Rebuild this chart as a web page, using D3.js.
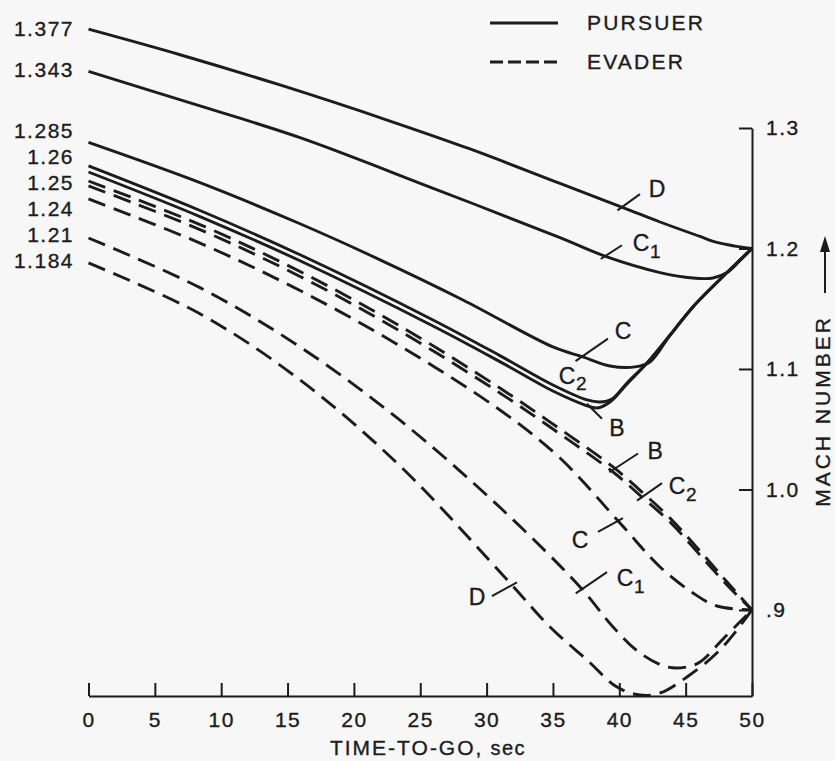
<!DOCTYPE html>
<html><head><meta charset="utf-8">
<script src="https://cdn.jsdelivr.net/npm/d3@7"></script>
<style>
html,body{margin:0;padding:0;background:#f7f7f7;}
svg{display:block;font-family:"Liberation Sans",Arial,sans-serif;}
svg text{stroke:#1c1c1c;stroke-width:0.35px;}
</style></head><body>
<svg id="chart" width="835" height="761"></svg>
<script>
// ---- data ----
const timeTicks = [0,5,10,15,20,25,30,35,40,45,50];
const machTicks = [0.9,1.0,1.1,1.2,1.3];
const machTickLabels = [".9","1.0","1.1","1.2","1.3"];
const startValues = [1.377,1.343,1.285,1.26,1.25,1.24,1.21,1.184];
const startValueLabels = ["1.377","1.343","1.285","1.26","1.25","1.24","1.21","1.184"];

// [time-to-go (s), Mach]
const pursuerD  = [[0,1.382],[6.9,1.3608],[14.43,1.3357],[22.72,1.3058],[28.75,1.2826],[35.53,1.254],[40.28,1.234],[43.07,1.222],[46.08,1.210],[47.36,1.205],[48.72,1.202],[50,1.2]];
const pursuerC1 = [[0,1.347],[8.4,1.3183],[15.94,1.292],[25.73,1.251],[35.53,1.209],[39.07,1.193],[43.07,1.180],[45.55,1.1755],[47.06,1.1755],[48.12,1.180],[49.1,1.190],[50,1.2]];
const pursuerC  = [[0,1.288],[8.4,1.2546],[15.94,1.2205],[21.97,1.1906],[28.22,1.1573],[35.0,1.1183],[37.26,1.110],[39.3,1.1025],[41.18,1.1017],[42.31,1.1058],[43.82,1.128],[45.55,1.1515],[48.12,1.180],[50,1.2]];
const pursuerC2 = [[0,1.2685],[8.4,1.2315],[15.94,1.1948],[25.96,1.1407],[31.0,1.1111],[35.0,1.0867],[37.57,1.0743],[38.55,1.0726],[39.45,1.0751],[40.58,1.0884],[42.09,1.105],[43.82,1.128],[45.55,1.1515],[48.12,1.180],[50,1.2]];
const pursuerB  = [[0,1.2635],[8.4,1.2265],[15.94,1.1898],[25.96,1.1357],[31.0,1.1061],[35.0,1.0817],[37.42,1.0701],[38.32,1.0676],[39.3,1.0726],[40.58,1.0876],[42.09,1.105],[43.82,1.128],[45.55,1.1515],[48.12,1.180],[50,1.2]];
const evaderB   = [[0,1.256],[8.4,1.2198],[15.94,1.1809],[23.47,1.1357],[31.0,1.0842],[35.53,1.0502],[39.53,1.0187],[41.79,0.9971],[43.82,0.9763],[46.08,0.9490],[48.12,0.9232],[50,0.9]];
const evaderC2  = [[0,1.2519],[8.4,1.2157],[15.94,1.1768],[23.47,1.1315],[31.0,1.0801],[35.53,1.0461],[39.53,1.0145],[41.79,0.9929],[43.82,0.9730],[46.08,0.9456],[48.12,0.9207],[50,0.9]];
const evaderC   = [[0,1.2411],[8.4,1.2045],[15.94,1.1651],[23.47,1.1191],[31.0,1.066],[35.53,1.0261],[40.05,0.9722],[43.07,0.9357],[45.55,0.9141],[47.36,0.9033],[50,0.9]];
const evaderC1  = [[0,1.2087],[8.4,1.1675],[15.94,1.1183],[23.47,1.0575],[31.0,0.9852],[37.04,0.9191],[39.53,0.8859],[41.56,0.8643],[43.6,0.8527],[45.1,0.8527],[46.08,0.8568],[47.96,0.8776],[50,0.9]];
const evaderD   = [[0,1.188],[8.4,1.1458],[15.94,1.0909],[23.47,1.0196],[31.76,0.9224],[34.78,0.8859],[37.57,0.8585],[39.83,0.836],[41.56,0.8294],[43.07,0.8311],[45.1,0.8444],[47.59,0.8668],[50,0.9]];

const series = [
  {id:"pD", role:"pursuer", data:pursuerD},
  {id:"pC1", role:"pursuer", data:pursuerC1},
  {id:"pC", role:"pursuer", data:pursuerC},
  {id:"pC2", role:"pursuer", data:pursuerC2},
  {id:"pB", role:"pursuer", data:pursuerB},
  {id:"eB", role:"evader", data:evaderB},
  {id:"eC2", role:"evader", data:evaderC2},
  {id:"eC", role:"evader", data:evaderC},
  {id:"eC1", role:"evader", data:evaderC1},
  {id:"eD", role:"evader", data:evaderD}
];
const curveNames = {pD:["D",""],pC1:["C","1"],pC:["C",""],pC2:["C","2"],pB:["B",""],
                    eB:["B",""],eC2:["C","2"],eC:["C",""],eC1:["C","1"],eD:["D",""]};
const legendItems = ["PURSUER","EVADER"];
const xTitle = "TIME-TO-GO,";
const xTitleUnit = "sec";
const yTitle = "MACH NUMBER";

// ---- layout (not data) ----
const annotations = [
  {id:"pD",  t:40.2,  tick:[18,-13], label:[35,-18]},
  {id:"pC1", t:38.92, tick:[17,-11], label:[36,-13]},
  {id:"pC",  t:37.19, tick:[26,-18], label:[41,-26]},
  {id:"pC2", t:36.06, tick:null,     label:[0,-16]},
  {id:"pB",  t:37.79, tick:[12,12],  label:[27,21]},
  {id:"eB",  t:39.68, tick:[23,-15], label:[40,-18]},
  {id:"eC2", t:41.71, tick:[20,-14], label:[35,-11]},
  {id:"eC",  t:39.9,  tick:[-20,11], label:[-38,19]},
  {id:"eC1", t:37.19, tick:[25,-17], label:[43,-11]},
  {id:"eD",  t:31.91, tick:[-20,11], label:[-35,12]}
];

const ink = "#1c1c1c";
const svg = d3.select("#chart");
const x = d3.scaleLinear().domain([0,50]).range([88.5,752]);
const y = d3.scaleLinear().domain([0.8286,1.3]).range([696,128]);

// axes
const gx = svg.append("g").attr("transform","translate(0,696)")
  .call(d3.axisBottom(x).tickValues(timeTicks).tickSize(-13).tickSizeOuter(0).tickPadding(16));
gx.select(".domain").attr("stroke",ink).attr("stroke-width",2);
gx.selectAll(".tick line").attr("stroke",ink).attr("stroke-width",2);
gx.selectAll(".tick text").attr("fill",ink).style("font-size","21px").style("letter-spacing","1.5px")
  .style("font-family","'Liberation Sans',Arial,sans-serif");

const gy = svg.append("g").attr("transform","translate(752,0)")
  .call(d3.axisLeft(y).tickValues(machTicks).tickSize(13).tickSizeOuter(0)
        .tickFormat((d,i)=>machTickLabels[i]));
gy.select(".domain").attr("stroke",ink).attr("stroke-width",2);
gy.selectAll(".tick line").attr("stroke",ink).attr("stroke-width",2);
gy.selectAll(".tick text").attr("fill",ink).attr("x",14).attr("text-anchor","start")
  .style("font-size","21px").style("letter-spacing","1.5px")
  .style("font-family","'Liberation Sans',Arial,sans-serif");

// axis titles
const xt = svg.append("text").attr("x",428).attr("y",755).attr("text-anchor","middle")
  .attr("fill",ink).style("font-size","21px").style("letter-spacing","2px");
xt.append("tspan").text(xTitle);
xt.append("tspan").text(" "+xTitleUnit).style("font-size","20px").style("letter-spacing","1.5px");

svg.append("text").attr("transform","translate(823,411) rotate(-90)")
  .attr("text-anchor","middle").attr("dy","0.35em").attr("fill",ink)
  .style("font-size","21px").style("letter-spacing","3px").text(yTitle);
svg.append("line").attr("x1",825).attr("x2",825).attr("y1",293).attr("y2",250)
  .attr("stroke",ink).attr("stroke-width",2);
svg.append("path").attr("d","M825,236 L820,252 L830,252 Z").attr("fill",ink);

// start value labels (spread apart to avoid overlap)
const pos = startValues.map(v=>y(v));
const order = d3.range(pos.length).sort((a,b)=>pos[a]-pos[b]);
const gap = 26;
for (let it=0; it<300; it++) {
  for (let k=1;k<order.length;k++){
    const a=order[k-1], b=order[k];
    const d = pos[b]-pos[a];
    if (d<gap){ const s=(gap-d)/2; pos[a]-=s; pos[b]+=s; }
  }
}
svg.append("g").selectAll("text").data(startValueLabels).join("text")
  .attr("x",74).attr("y",(d,i)=>pos[i]-7).attr("dy","0.35em").attr("text-anchor","end")
  .attr("fill",ink).style("font-size","21px").style("letter-spacing","1.5px").text(d=>d);

// curves
const line = d3.line().x(d=>x(d[0])).y(d=>y(d[1])).curve(d3.curveCatmullRom.alpha(0.5));
const paths = {};
series.forEach(s=>{
  paths[s.id] = svg.append("path").datum(s.data).attr("d",line)
    .attr("fill","none").attr("stroke",ink).attr("stroke-width",2.9)
    .attr("stroke-linejoin","round")
    .attr("stroke-dasharray", s.role==="evader" ? "18,9" : null).node();
});

function pointAtX(node, px){
  let lo=0, hi=node.getTotalLength();
  for(let i=0;i<40;i++){
    const mid=(lo+hi)/2;
    if(node.getPointAtLength(mid).x<px) lo=mid; else hi=mid;
  }
  return node.getPointAtLength((lo+hi)/2);
}

// curve annotations
annotations.forEach(a=>{
  const p = pointAtX(paths[a.id], x(a.t));
  if (a.tick){
    svg.append("line")
      .attr("x1",p.x-a.tick[0]*0.25).attr("y1",p.y-a.tick[1]*0.25)
      .attr("x2",p.x+a.tick[0]).attr("y2",p.y+a.tick[1])
      .attr("stroke",ink).attr("stroke-width",2);
  }
  const [main, sub] = curveNames[a.id];
  const cx = p.x+a.label[0], cy = p.y+a.label[1];
  svg.append("text").attr("x",cx).attr("y",cy).attr("dy","0.35em").attr("text-anchor","middle")
    .attr("fill",ink).style("font-size","23px").text(main);
  if (sub){
    svg.append("text").attr("x",cx+9).attr("y",cy+8).attr("dy","0.35em").attr("text-anchor","start")
      .attr("fill",ink).style("font-size","19px").text(sub);
  }
});

// legend
const lg = svg.append("g");
legendItems.forEach((name,i)=>{
  const ly = i===0 ? 23 : 62;
  lg.append("line").attr("x1",490).attr("x2",558).attr("y1",ly).attr("y2",ly)
    .attr("stroke",ink).attr("stroke-width",3.2)
    .attr("stroke-dasharray", i===1 ? "13,5" : null);
  lg.append("text").attr("x",587).attr("y",ly).attr("dy","0.35em").attr("fill",ink)
    .style("font-size","21px").style("letter-spacing","2.2px").text(name);
});
</script>
</body></html>
